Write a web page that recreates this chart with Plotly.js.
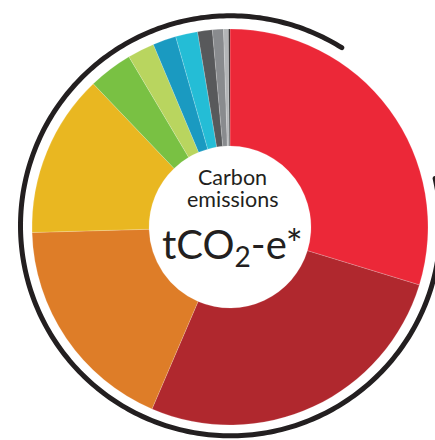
<!DOCTYPE html>
<html>
<head>
<meta charset="utf-8">
<script src="https://cdn.plot.ly/plotly-3.0.1.min.js"></script>
<style>html,body{margin:0;padding:0;background:#fff;}#chart{width:435px;height:440px;}</style>
</head>
<body>
<div id="chart"></div>
<script>
// Data (share of emissions, %; clockwise from 12 o'clock)
const categories = ["Category 1","Category 2","Category 3","Category 4","Category 5","Category 6",
                    "Category 7","Category 8","Category 9","Category 10","Category 11","Category 12"];
const shares = [29.7, 26.7, 18.1, 13.3, 3.6, 2.2, 1.9, 1.8, 1.2, 0.9, 0.4, 0.12];
const colors = ["#EC2838","#B0282E","#DE7D28","#E9B721","#79C143","#B9D55F",
                "#1A9AC1","#24BDD6","#58595B","#898B8E","#B3B5B7","#231F20"];
const centerLine1 = "Carbon";
const centerLine2 = "emissions";
const centerUnit = "tCO<sub>2</sub>-e*";

const W = 435, H = 440;
const px = x => x / W, py = y => 1 - y / H;

// decorative outer ring (open arc), clockwise from start to end angle (deg from 12 o'clock)
const ringCx = 230.5, ringCy = 225.8, ringR = 210, ringStart = 77, ringEnd = 392.3;
let pts = [];
for (let a = ringStart; a <= ringEnd + 1e-9; a += 1) {
  const t = a * Math.PI / 180;
  pts.push(px(ringCx + ringR * Math.sin(t)).toFixed(5) + "," + py(ringCy - ringR * Math.cos(t)).toFixed(5));
}
const ringPath = "M" + pts.join(" L");

const trace = {
  type: "pie",
  labels: categories,
  values: shares,
  sort: false,
  direction: "clockwise",
  rotation: 0,
  hole: 0.409,
  textinfo: "none",
  hoverinfo: "label+value",
  marker: {colors: colors, line: {color: "rgba(255,255,255,0.35)", width: 0.5}},
  domain: {x: [px(32), px(428)], y: [py(425), py(29)]},
  showlegend: false
};

const layout = {
  width: W, height: H,
  margin: {l: 0, r: 0, t: 0, b: 0, pad: 0},
  paper_bgcolor: "#ffffff",
  plot_bgcolor: "#ffffff",
  showlegend: false,
  shapes: [{type: "path", xref: "paper", yref: "paper", path: ringPath,
            line: {color: "#231F20", width: 5}}],
  annotations: [
    {text: centerLine1, xref: "paper", yref: "paper", x: px(232), y: py(177.5), xanchor: "center", yanchor: "middle",
     showarrow: false, font: {family: "Lato, sans-serif", size: 21.5, color: "#231F20"}},
    {text: centerLine2, xref: "paper", yref: "paper", x: px(232), y: py(199.5), xanchor: "center", yanchor: "middle",
     showarrow: false, font: {family: "Lato, sans-serif", size: 21.5, color: "#231F20"}},
    {text: centerUnit, xref: "paper", yref: "paper", x: px(232), y: py(246), xanchor: "center", yanchor: "middle",
     showarrow: false, font: {family: "Lato, sans-serif", size: 40, color: "#231F20"}}
  ]
};

Plotly.newPlot("chart", [trace], layout, {displayModeBar: false, staticPlot: true}).then(() => {
  document.querySelectorAll(".shapelayer path").forEach(p => {
    p.style.strokeLinecap = "round";
    p.style.strokeLinejoin = "round";
  });
});
</script>
</body>
</html>
